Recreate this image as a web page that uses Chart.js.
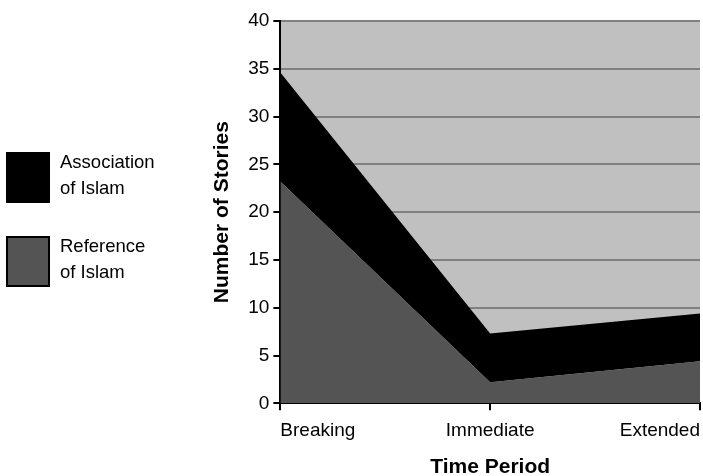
<!DOCTYPE html>
<html>
<head>
<meta charset="utf-8">
<script src="https://cdn.jsdelivr.net/npm/chart.js@4/dist/chart.umd.min.js"></script>
<style>
  html, body { margin: 0; padding: 0; background: #fff; }
  #wrap { position: relative; width: 703px; height: 476px; }
  #c { position: absolute; left: 0; top: 0; }
  .lg { position: absolute; left: 6px; font-family: 'Liberation Sans', Arial, sans-serif; font-size: 18.5px; color: #000; }
  .lg .box { position: absolute; left: 0; width: 40px; height: 47px; border: 2px solid #000; box-sizing: content-box; }
  .lg .txt { position: absolute; left: 54px; top: 0; line-height: 26px; white-space: nowrap; }
</style>
</head>
<body>
<div id="wrap">
  <canvas id="c" width="703" height="476"></canvas>
  <div id="legend"></div>
</div>
<script>
const categories = ['Breaking', 'Immediate', 'Extended'];
const referenceOfIslam = [23.2, 2.2, 4.4];
const associationOfIslam = [11.4, 5.1, 5.0];
const yTicks = [0, 5, 10, 15, 20, 25, 30, 35, 40];
const seriesNames = [['Association', 'of Islam'], ['Reference', 'of Islam']];
const seriesColors = ['#000000', '#545454'];

const FONT = "'Liberation Sans', Arial, sans-serif";

// HTML legend
const legend = document.getElementById('legend');
const legendTops = [152, 236];
seriesNames.forEach((lines, i) => {
  const d = document.createElement('div');
  d.className = 'lg';
  d.style.top = legendTops[i] + 'px';
  d.innerHTML = '<div class="box" style="background:' + seriesColors[i] + '"></div>' +
    '<div class="txt" style="top:-3px">' + lines.join('<br>') + '</div>';
  legend.appendChild(d);
});

const bgPlugin = {
  id: 'plotBg',
  beforeDraw(chart) {
    const a = chart.chartArea, ctx = chart.ctx;
    ctx.save();
    ctx.fillStyle = '#c0c0c0';
    ctx.fillRect(a.left, a.top, a.right - a.left, a.bottom - a.top);
    ctx.restore();
  }
};

new Chart(document.getElementById('c'), {
  type: 'line',
  data: {
    labels: categories,
    datasets: [
      { label: 'Reference of Islam', data: referenceOfIslam, backgroundColor: seriesColors[1], borderWidth: 0, pointRadius: 0, fill: 'origin', tension: 0 },
      { label: 'Association of Islam', data: associationOfIslam, backgroundColor: seriesColors[0], borderWidth: 0, pointRadius: 0, fill: '-1', tension: 0 }
    ]
  },
  options: {
    responsive: false,
    animation: false,
    events: [],
    layout: { padding: { left: 210, right: 3, top: 21, bottom: 0 } },
    plugins: { legend: { display: false }, tooltip: { enabled: false } },
    scales: {
      x: {
        offset: false,
        afterFit(scale) { scale.paddingRight = 0; scale.paddingLeft = 0; },
        grid: { drawOnChartArea: false, drawTicks: true, tickLength: 7, tickColor: '#000', lineWidth: 2 },
        border: { color: '#000', width: 2 },
        ticks: { align: 'inner', color: '#000', font: { family: FONT, size: 19 }, padding: 9, maxRotation: 0 },
        title: { display: true, text: 'Time Period', color: '#000', font: { family: FONT, size: 21, weight: 'bold', lineHeight: 0.85 }, padding: { top: 7, bottom: 0 } }
      },
      y: {
        stacked: true,
        min: 0, max: 40,
        afterBuildTicks(scale) { scale.ticks = yTicks.map(v => ({ value: v })); },
        grid: { color: '#808080', lineWidth: 2, drawTicks: true, tickLength: 7, tickColor: '#000' },
        border: { color: '#000', width: 2 },
        ticks: { color: '#000', font: { family: FONT, size: 19 }, padding: 4 },
        title: { display: true, text: 'Number of Stories', color: '#000', font: { family: FONT, size: 21, weight: 'bold' }, padding: { top: 0, bottom: 9 } }
      }
    }
  },
  plugins: [bgPlugin]
});
</script>
</body>
</html>
